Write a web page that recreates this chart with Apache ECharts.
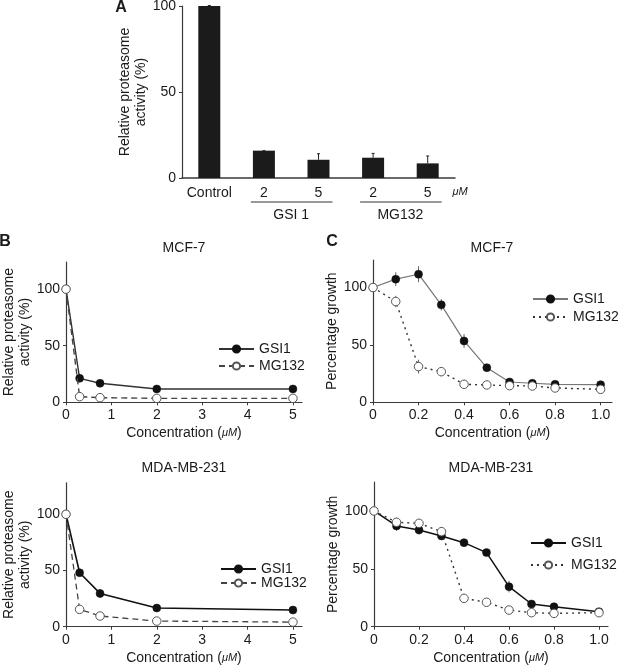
<!DOCTYPE html>
<html>
<head>
<meta charset="utf-8">
<script src="https://cdn.jsdelivr.net/npm/echarts@6/dist/echarts.min.js"></script>
<style>
html,body{margin:0;padding:0;background:#fff;}
#c{width:618px;height:670px;}
</style>
</head>
<body>
<div id="c"></div>
<script>
// ---------- DATA ----------
// Panel A
const catA = ['Control', '2', '5', '2', '5'];
const valA = [100, 15.9, 10.6, 11.8, 8.5];
const errA = [0.3, 0, 3.5, 2.5, 4.3];
const groupA = [
  { label: 'GSI 1', from: 1, to: 2 },
  { label: 'MG132', from: 3, to: 4 }
];
const unitA = 'μM';

// Panel B (proteasome activity)
const concB = [0, 0.3, 0.75, 2, 5];
const mcfB_gsi = [100, 21.2, 16.8, 11.8, 11.8];
const mcfB_gsiErr = [0, 1, 1, 0.5, 0.5];
const mcfB_mg = [100, 5.0, 4.1, 3.5, 3.5];
const mcfB_mgErr = [0, 0.5, 0.5, 0.5, 0.5];
const mdaB_gsi = [100, 48, 29.6, 16.6, 14.8];
const mdaB_gsiErr = [0, 2, 4, 1, 1];
const mdaB_mg = [100, 15.4, 9.5, 5.0, 4.1];
const mdaB_mgErr = [0, 1, 0.5, 0.5, 0.5];
const ticksBx = [0, 1, 2, 3, 4, 5];
const ticksY = [0, 50, 100];

// Panel C (percentage growth)
const concC = [0, 0.1, 0.2, 0.3, 0.4, 0.5, 0.6, 0.7, 0.8, 1.0];
const mcfC_gsi = [100, 107.3, 111.6, 84.9, 53.5, 30.2, 17.7, 16.6, 15.7, 15.4];
const mcfC_gsiErr = [0, 6, 7, 5, 6, 3, 2, 2, 1.5, 1.5];
const mcfC_mg = [100, 87.8, 31.1, 26.7, 15.7, 15.1, 14.5, 14.2, 12.5, 11.3];
const mcfC_mgErr = [0, 5, 6, 4, 1.5, 1, 1, 1, 1, 1];
const mdaC_gsi = [100, 87, 83.6, 78.4, 72.6, 64, 34.6, 19.6, 17.3, 13];
const mdaC_gsiErr = [0, 4, 4, 2, 3, 2, 5, 1.5, 1.5, 1];
const mdaC_mg = [100, 90.2, 89.3, 82.1, 24.5, 21.1, 14.4, 12.1, 11.5, 12.1];
const mdaC_mgErr = [0, 4, 2, 4, 1, 1, 1, 1, 1, 1];
const ticksCx = [0, 0.2, 0.4, 0.6, 0.8, 1.0];

const titles = ['MCF-7', 'MDA-MB-231'];
const yNameB = 'Relative proteasome\nactivity (%)';
const yNameC = 'Percentage growth';

// ---------- CHART ----------
const FONT = '"Liberation Sans", Arial, sans-serif';
const TXT = '#1a1a1a';
const AX = '#3a3a3a';
const chart = echarts.init(document.getElementById('c'), null, { renderer: 'canvas' });

const zip = (xs, ys) => xs.map((x, i) => [x, ys[i]]);
const zip3 = (xs, ys, es) => xs.map((x, i) => [x, ys[i], es[i]]);

function valueXAxis(grid, max, ticks, fmt) {
  return {
    type: 'value', gridIndex: grid, min: 0, max: max,
    name: '{n|Concentration (}{i|μM}{n|)}',
    nameLocation: 'middle', nameGap: 24,
    nameTextStyle: { rich: { n: { fontSize: 14, color: TXT, fontFamily: FONT }, i: { fontSize: 11, fontStyle: 'italic', color: TXT, fontFamily: FONT } } },
    axisLine: { show: true, onZero: false, lineStyle: { color: AX, width: 1.2 } },
    axisTick: { show: true, length: 3, customValues: ticks, lineStyle: { color: AX } },
    axisLabel: { customValues: ticks, fontSize: 14, color: TXT, fontFamily: FONT, margin: 6, formatter: fmt },
    splitLine: { show: false }
  };
}
function valueYAxis(grid, max, name, gap) {
  return {
    type: 'value', gridIndex: grid, min: 0, max: max,
    name: name, nameLocation: 'middle', nameGap: gap, nameRotate: 90,
    nameTextStyle: { fontSize: 14, color: TXT, fontFamily: FONT, lineHeight: 16 },
    axisLine: { show: true, lineStyle: { color: AX, width: 1.2 } },
    axisTick: { show: true, length: 3, customValues: ticksY, lineStyle: { color: AX } },
    axisLabel: { customValues: ticksY, fontSize: 14, color: TXT, fontFamily: FONT, margin: 6 },
    splitLine: { show: false }
  };
}

function errSeries(xi, yi, data) {
  return {
    type: 'custom', xAxisIndex: xi, yAxisIndex: yi, z: 1, silent: true, clip: false,
    data: data,
    renderItem: function (params, api) {
      const x = api.value(0), y = api.value(1), e = api.value(2);
      if (!e) return null;
      const p1 = api.coord([x, y - e]);
      const p2 = api.coord([x, y + e]);
      return { type: 'line', shape: { x1: p1[0], y1: p1[1], x2: p2[0], y2: p2[1] },
        style: { stroke: '#666', lineWidth: 1 } };
    }
  };
}

function lineSeries(name, xi, data, filled, color, width, dash) {
  return {
    type: 'line', name: name, xAxisIndex: xi, yAxisIndex: xi, data: data,
    symbol: 'circle', symbolSize: filled ? 8 : 8.5, z: filled ? 3 : 4,
    showAllSymbol: true, clip: false,
    itemStyle: filled ? { color: '#111', borderColor: '#111', borderWidth: 0.5 }
                      : { color: '#fff', borderColor: '#555', borderWidth: 1 },
    lineStyle: { color: color, width: width, type: dash || 'solid' },
    emphasis: { disabled: true }, animation: false
  };
}

function legend(names, left, top, gap) {
  return {
    data: names, orient: 'vertical', left: left, top: top, itemGap: gap, padding: 0,
    itemWidth: 35, itemHeight: 9, selectedMode: false,
    formatter: n => n.split('#')[0],
    textStyle: { fontSize: 14, color: TXT, fontFamily: FONT }
  };
}

const option = {
  animation: false,
  textStyle: { fontFamily: FONT },
  grid: [
    { left: 182, top: 6, width: 273, height: 172, outerBoundsMode: 'none' },
    { left: 66, top: 262, width: 236, height: 140.3, outerBoundsMode: 'none' },
    { left: 66, top: 482.8, width: 236, height: 143.9, outerBoundsMode: 'none' },
    { left: 373, top: 260, width: 239, height: 142.3, outerBoundsMode: 'none' },
    { left: 374, top: 482, width: 234, height: 144.7, outerBoundsMode: 'none' }
  ],
  xAxis: [
    {
      type: 'category', gridIndex: 0, data: catA,
      axisLine: { lineStyle: { color: AX, width: 1.5 } },
      axisTick: { show: false },
      axisLabel: { fontSize: 14, color: TXT, fontFamily: FONT, margin: 8, interval: 0 }
    },
    valueXAxis(1, 5.2, ticksBx),
    valueXAxis(2, 5.2, ticksBx),
    valueXAxis(3, 1.05, ticksCx, v => v === 0 ? '0' : v.toFixed(1)),
    valueXAxis(4, 1.04, ticksCx, v => v === 0 ? '0' : v.toFixed(1))
  ],
  yAxis: [
    {
      type: 'value', gridIndex: 0, min: 0, max: 100,
      name: yNameB, nameLocation: 'middle', nameGap: 32, nameRotate: 90,
      nameTextStyle: { fontSize: 14, color: TXT, fontFamily: FONT, lineHeight: 16 },
      axisLine: { show: true, lineStyle: { color: AX, width: 1.2 } },
      axisTick: { show: true, length: 3, customValues: ticksY, lineStyle: { color: AX } },
      axisLabel: { customValues: ticksY, fontSize: 14, color: TXT, fontFamily: FONT, margin: 6 },
      splitLine: { show: false }
    },
    valueYAxis(1, 124, yNameB, 32),
    valueYAxis(2, 128, yNameB, 32),
    valueYAxis(3, 124, yNameC, 31),
    valueYAxis(4, 125, yNameC, 31)
  ],
  legend: [
    legend(['GSI1#b1', 'MG132#b1'], 218, 342, 3),
    legend(['GSI1#b2', 'MG132#b2'], 220, 562, 0),
    legend(['GSI1#c1', 'MG132#c1'], 532, 292, 4),
    legend(['GSI1#c2', 'MG132#c2'], 530, 536, 8)
  ],
  series: [
    {
      type: 'bar', xAxisIndex: 0, yAxisIndex: 0, data: valA, barWidth: 22,
      itemStyle: { color: '#1b1b1b' }, z: 2, emphasis: { disabled: true }
    },
    {
      type: 'custom', xAxisIndex: 0, yAxisIndex: 0, z: 3, silent: true, clip: false,
      data: valA.map((v, i) => [i, v, errA[i]]),
      renderItem: function (params, api) {
        const i = api.value(0), v = api.value(1), e = api.value(2);
        const p1 = api.coord([i, v]);
        const p2 = api.coord([i, v + e]);
        return { type: 'group', children: [
          { type: 'line', shape: { x1: p1[0], y1: p1[1], x2: p2[0], y2: p2[1] }, style: { stroke: '#222', lineWidth: 1 } },
          { type: 'line', shape: { x1: p2[0] - 1.5, y1: p2[1], x2: p2[0] + 1.5, y2: p2[1] }, style: { stroke: '#222', lineWidth: 1 } }
        ] };
      }
    },
    // B MCF-7
    errSeries(1, 1, zip3(concB, mcfB_gsi, mcfB_gsiErr)),
    errSeries(1, 1, zip3(concB, mcfB_mg, mcfB_mgErr)),
    lineSeries('GSI1#b1', 1, zip(concB, mcfB_gsi), true, '#333', 1.4),
    lineSeries('MG132#b1', 1, zip(concB, mcfB_mg), false, '#444', 1.4, [6, 4]),
    // B MDA
    errSeries(2, 2, zip3(concB, mdaB_gsi, mdaB_gsiErr)),
    errSeries(2, 2, zip3(concB, mdaB_mg, mdaB_mgErr)),
    lineSeries('GSI1#b2', 2, zip(concB, mdaB_gsi), true, '#111', 1.6),
    lineSeries('MG132#b2', 2, zip(concB, mdaB_mg), false, '#444', 1.3, [6, 4]),
    // C MCF-7
    errSeries(3, 3, zip3(concC, mcfC_gsi, mcfC_gsiErr)),
    errSeries(3, 3, zip3(concC, mcfC_mg, mcfC_mgErr)),
    lineSeries('GSI1#c1', 3, zip(concC, mcfC_gsi), true, '#777', 1.2),
    lineSeries('MG132#c1', 3, zip(concC, mcfC_mg), false, '#333', 1.4, [2, 4]),
    // C MDA
    errSeries(4, 4, zip3(concC, mdaC_gsi, mdaC_gsiErr)),
    errSeries(4, 4, zip3(concC, mdaC_mg, mdaC_mgErr)),
    lineSeries('GSI1#c2', 4, zip(concC, mdaC_gsi), true, '#111', 1.5),
    lineSeries('MG132#c2', 4, zip(concC, mdaC_mg), false, '#333', 1.4, [2, 4])
  ]
};
chart.setOption(option);

// ---- annotations (panel letters, titles, group underlines) ----
const g = [];
const txt = (x, y, s, opts) => Object.assign({ type: 'text', x: x, y: y,
  style: Object.assign({ text: s, fill: TXT, fontSize: 14, fontFamily: FONT, align: 'center', verticalAlign: 'middle' }, opts || {}) });
g.push(txt(121, 8, 'A', { fontSize: 16, fontWeight: 'bold' }));
g.push(txt(5, 242, 'B', { fontSize: 16, fontWeight: 'bold' }));
g.push(txt(332, 242, 'C', { fontSize: 16, fontWeight: 'bold' }));
g.push(txt(184, 248, titles[0]));
g.push(txt(184, 468, titles[1]));
g.push(txt(492, 248, titles[0]));
g.push(txt(491, 468, titles[1]));
groupA.forEach(gr => {
  const x1 = chart.convertToPixel({ xAxisIndex: 0 }, gr.from);
  const x2 = chart.convertToPixel({ xAxisIndex: 0 }, gr.to);
  g.push({ type: 'line', shape: { x1: x1 - 13, y1: 202, x2: x2 + 14, y2: 202 }, style: { stroke: '#333', lineWidth: 1 } });
  g.push(txt((x1 + x2) / 2, 215, gr.label));
});
g.push(txt(460, 192, unitA, { fontSize: 11, fontStyle: 'italic' }));
chart.setOption({ graphic: g });
</script>
</body>
</html>
